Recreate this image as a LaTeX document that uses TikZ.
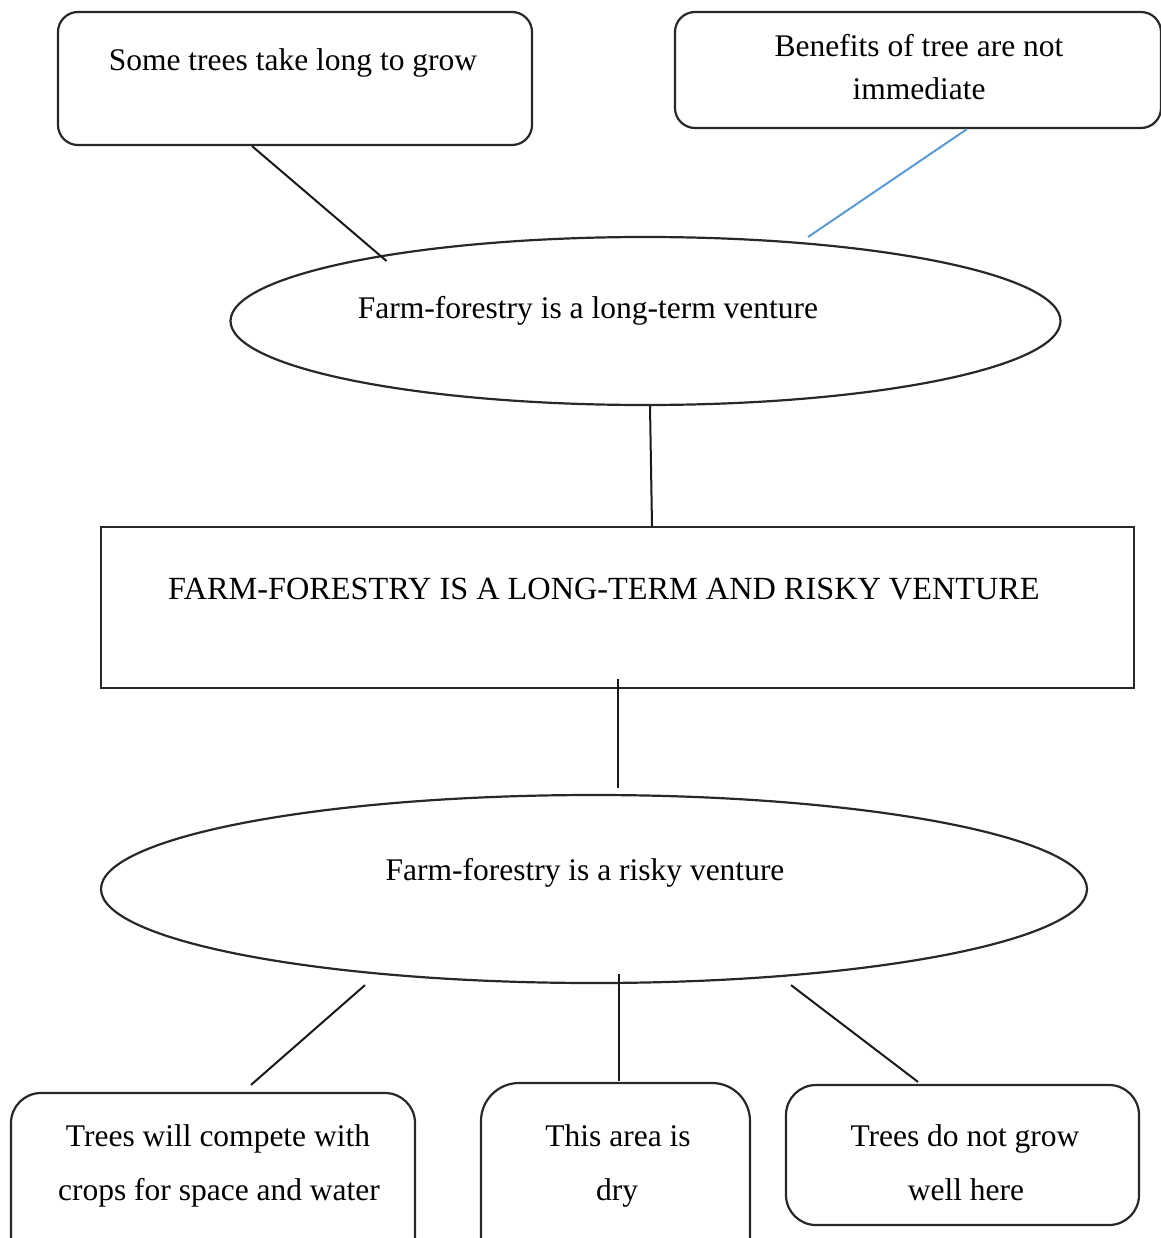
\documentclass[tikz,border=0pt]{standalone}
\usepackage{fontspec}
\setmainfont{Liberation Serif}
\usetikzlibrary{shapes.geometric,calc}
\definecolor{linkblue}{RGB}{91,155,213}
\definecolor{edge}{RGB}{40,40,40}
\tikzset{
  rbox/.style={draw=edge, line width=2.2pt, rounded corners=#1, inner sep=0pt, fill=white},
  oval/.style={draw=edge, line width=2.2pt, ellipse, inner sep=0pt, fill=white},
  sqbox/.style={draw=edge, line width=2.2pt, rectangle, inner sep=0pt, fill=white},
  txt/.style={anchor=base, inner sep=0pt, font=\fontsize{31.5}{43}\selectfont},
  conn/.style={draw=black!90, line width=2pt},
  blueconn/.style={draw=linkblue, line width=2pt}
}
\begin{document}
\begin{tikzpicture}[x=1pt,y=-1pt]
\useasboundingbox (0,0) rectangle (1160,1238);
% shapes
\node[rbox=20pt, minimum width=474pt, minimum height=133pt] (b1) at (295,78.5) {};
\node[rbox=20pt, minimum width=486pt, minimum height=116pt] (b2) at (918,70) {};
\node[oval, minimum width=830pt, minimum height=168pt] (e1) at (645.5,321) {};
\node[sqbox, minimum width=1033pt, minimum height=161pt] (main) at (617.5,607.5) {};
\node[oval, minimum width=986pt, minimum height=188pt] (e2) at (594,889) {};
\node[rbox=30pt, minimum width=404pt, minimum height=190pt] (l) at (213,1188) {};
\node[rbox=38pt, minimum width=269pt, minimum height=200pt] (m) at (615.5,1183) {};
\node[rbox=30pt, minimum width=353pt, minimum height=140pt] (r) at (962.5,1155) {};
% texts
\node[txt] (b1t) at (293,71) {Some trees take long to grow};
\node[txt] (b2t1) at (919,57) {Benefits of tree are not};
\node[txt] (b2t2) at (919,100) {immediate};
\node[txt] (e1t) at (588,318) {Farm-forestry is a long-term venture};
\node[txt, font=\fontsize{32.3}{43}\selectfont] (maint) at (604,599) {FARM-FORESTRY IS A LONG-TERM AND RISKY VENTURE};
\node[txt] (e2t) at (585,880) {Farm-forestry is a risky venture};
\node[txt] (lt1) at (218,1146) {Trees will compete with};
\node[txt] (lt2) at (219,1200) {crops for space and water};
\node[txt] (mt1) at (618,1146) {This area is};
\node[txt] (mt2) at (617,1200) {dry};
\node[txt] (rt1) at (965,1146) {Trees do not grow};
\node[txt] (rt2) at (966,1200) {well here};
% connectors
\draw[conn] ($(b1.south)+(-43,0)$) -- ($(e1.center)+(-259,-60)$);
\draw[blueconn] ($(b2.south)+(49,0)$) -- ($(e1.center)+(162.5,-84)$);
\draw[conn] ($(e1.south)+(4.5,0)$) -- ($(main.north)+(34.5,0)$);
\draw[conn] ($(main.south)+(0.5,-10)$) -- ($(e2.north)+(24,-6)$);
\draw[conn] ($(e2.south)+(-229,1)$) -- ($(l.north)+(38,-7)$);
\draw[conn] ($(e2.south)+(25,-10)$) -- ($(m.north)+(3.5,-1)$);
\draw[conn] ($(e2.south)+(197,1)$) -- ($(r.north)+(-44.5,-2)$);
\end{tikzpicture}
\end{document}
